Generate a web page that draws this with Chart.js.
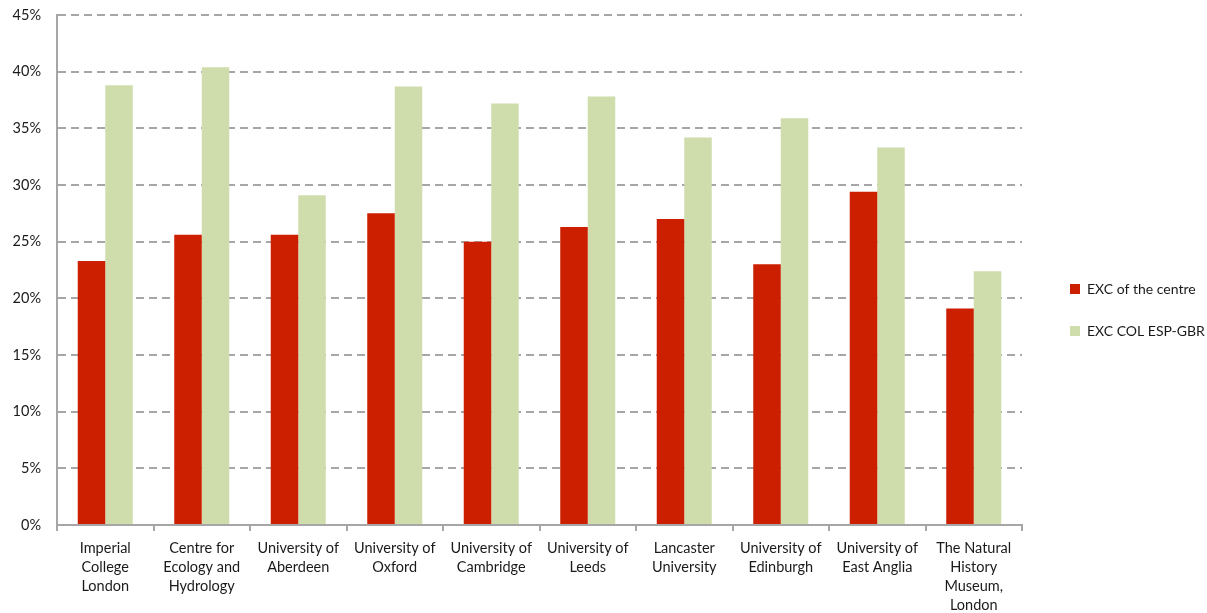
<!DOCTYPE html>
<html>
<head>
<meta charset="utf-8">
<script src="https://cdn.jsdelivr.net/npm/chart.js"></script>
<style>
html, body { margin: 0; padding: 0; background: #fff; }
#wrap { width: 1207px; height: 613px; }
</style>
</head>
<body>
<div id="wrap"><canvas id="chart"></canvas></div>
<script>
var categories = [
    ['Imperial', 'College', 'London'],
    ['Centre for', 'Ecology and', 'Hydrology'],
    ['University of', 'Aberdeen'],
    ['University of', 'Oxford'],
    ['University of', 'Cambridge'],
    ['University of', 'Leeds'],
    ['Lancaster', 'University'],
    ['University of', 'Edinburgh'],
    ['University of', 'East Anglia'],
    ['The Natural', 'History', 'Museum,', 'London']
];
var seriesNames = ['EXC of the centre', 'EXC COL ESP-GBR'];
var centreValues = [23.3, 25.6, 25.6, 27.5, 25.0, 26.3, 27.0, 23.0, 29.4, 19.1];
var colValues = [38.8, 40.4, 29.1, 38.7, 37.2, 37.8, 34.2, 35.9, 33.3, 22.4];
var yMin = 0, yMax = 45, yStep = 5;

var FONT = 'Lato, "Liberation Sans", sans-serif';

// legend sits 50px away from the plot, chart.js has no option for that
var legendGap = {
    id: 'legendGap',
    beforeLayout: function(chart) {
        var lg = chart.legend;
        if (lg && !lg._wrapped) {
            var fit = lg.fit;
            lg.fit = function() {
                fit.call(this);
                this.width = 185;
            };
            lg._wrapped = true;
        }
    },
    afterLayout: function(chart) {
        chart.legend.left += 20;
        chart.legend.top -= 4;
        chart.legend.bottom -= 4;
    }
};

var ctx = document.getElementById('chart');
var chart = new Chart(ctx, {
    type: 'bar',
    data: {
        labels: categories,
        datasets: [{
            label: seriesNames[0],
            data: centreValues,
            backgroundColor: '#cc1f00',
            categoryPercentage: 0.57,
            barPercentage: 1.0
        }, {
            label: seriesNames[1],
            data: colValues,
            backgroundColor: '#cfdcab',
            categoryPercentage: 0.57,
            barPercentage: 1.0
        }]
    },
    options: {
        responsive: true,
        maintainAspectRatio: false,
        animation: false,
        layout: {
            padding: { top: 15, right: 0, bottom: 0, left: 0 }
        },
        plugins: {
            legend: {
                position: 'right',
                labels: {
                    boxWidth: 10,
                    boxHeight: 10,
                    padding: 28,
                    color: '#1a1a1a',
                    font: { family: FONT, size: 14 }
                }
            },
            tooltip: { enabled: false }
        },
        scales: {
            x: {
                afterFit: function(scale) { scale.height = 88; },
                grid: {
                    display: true,
                    offset: true,
                    drawOnChartArea: false,
                    drawTicks: true,
                    tickLength: 6,
                    color: '#a6a6a6',
                    lineWidth: 2
                },
                border: { display: true, color: '#a6a6a6', width: 2 },
                ticks: {
                    color: '#1a1a1a',
                    padding: 8,
                    maxRotation: 0,
                    autoSkip: false,
                    font: { family: FONT, size: 14.5, lineHeight: 1.3 }
                }
            },
            y: {
                min: yMin,
                max: yMax,
                afterFit: function(scale) {
                    scale.width = 57;
                    scale.paddingTop = 0;
                    scale.paddingBottom = 0;
                },
                grid: {
                    color: '#a6a6a6',
                    lineWidth: 2,
                    drawTicks: false
                },
                border: { display: true, color: '#a6a6a6', width: 2, dash: [8, 5] },
                ticks: {
                    stepSize: yStep,
                    padding: 16,
                    color: '#1a1a1a',
                    font: { family: FONT, size: 14.5 },
                    callback: function(v) { return v + '%'; }
                }
            }
        }
    },
    plugins: [legendGap]
});
</script>
</body>
</html>
